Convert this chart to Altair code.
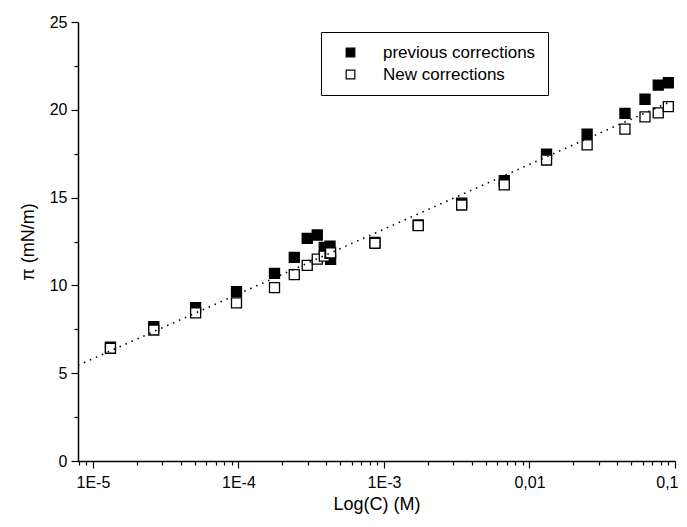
import altair as alt
import pandas as pd

# ---- data ----
series_names = ["previous corrections", "New corrections"]

conc = [1.32e-5, 2.62e-5, 5.08e-5, 9.7e-5, 1.77e-4, 2.42e-4, 2.97e-4, 3.48e-4,
        3.89e-4, 4.26e-4, 4.3e-4, 8.67e-4, 1.72e-3, 3.42e-3, 6.71e-3, 0.0131,
        0.0249, 0.0453, 0.0622, 0.0767, 0.090]
prev_pi = [6.49, 7.65, 8.73, 9.64, 10.69, 11.60, 12.68, 12.87, 12.17, 12.24,
           11.49, 12.45, 13.44, 14.68, 15.96, 17.48, 18.62, 19.80, 20.60, 21.41, 21.54]
new_pi = [6.42, 7.46, 8.43, 9.01, 9.87, 10.61, 11.14, 11.50, 11.67, 11.83,
          11.85, 12.40, 13.40, 14.58, 15.72, 17.14, 18.00, 18.90, 19.60, 19.83, 20.18]

fit_x = [7.9e-6, 0.09]
fit_y = [5.45, 20.41]

x_decades = [1e-5, 1e-4, 1e-3, 1e-2, 1e-1]
x_tick_labels = ["1E-5", "1E-4", "1E-3", "0,01", "0,1"]
y_ticks = [0, 2.5, 5, 7.5, 10, 12.5, 15, 17.5, 20, 22.5, 25]

# ---- tables ----
rows = []
for c, v in zip(conc, prev_pi):
    rows.append({"series": series_names[0], "C": c, "pi": v})
for c, v in zip(conc, new_pi):
    rows.append({"series": series_names[1], "C": c, "pi": v})
pts = pd.DataFrame(rows)
fit = pd.DataFrame({"C": fit_x, "pi": fit_y})

x_ticks = [8e-6, 9e-6]
for d in x_decades[:-1]:
    x_ticks += [d * k for k in range(1, 10)]
x_ticks.append(x_decades[-1])

label_expr = " : ".join(
    [f"abs(datum.value - {d}) < {d * 1e-3} ? '{l}'" for d, l in zip(x_decades, x_tick_labels)]
) + " : ''"
decade_test = "abs(log(datum.value)/LN10 - round(log(datum.value)/LN10)) < 0.001"

FONT = "Liberation Sans"

x_scale = alt.Scale(type="log", domain=[7.9e-6, 0.1], nice=False)
y_scale = alt.Scale(domain=[0, 25], nice=False, zero=False)

x_axis = alt.Axis(
    title="Log(C) (M)", values=x_ticks, labelExpr=label_expr, grid=False,
    tickSize={"condition": {"test": decade_test, "value": 7}, "value": 4},
    labelFontSize=16, titleFontSize=18, titlePadding=5, labelPadding=6,
    labelFlush=True, labelFlushOffset=3, labelOverlap=False,
)
y_axis = alt.Axis(
    title="π (mN/m)", values=y_ticks, grid=False,
    labelExpr="datum.value % 5 == 0 ? datum.label : ''",
    tickSize={"condition": {"test": "datum.value % 5 == 0", "value": 7}, "value": 4},
    labelFontSize=16, titleFontSize=18, titlePadding=12, labelPadding=4,
    labelFlush=False, labelOverlap=False,
)

points = alt.Chart(pts).mark_square(size=100, stroke="black", strokeWidth=1.3, opacity=1).encode(
    x=alt.X("C:Q", scale=x_scale, axis=x_axis),
    y=alt.Y("pi:Q", scale=y_scale, axis=y_axis),
    fill=alt.Fill(
        "series:N",
        scale=alt.Scale(domain=series_names, range=["black", "white"]),
        legend=alt.Legend(
            title=None, orient="none", legendX=243, legendY=10,
            strokeColor="black", padding=12, symbolType="square", symbolSize=75,
            symbolStrokeColor="black", symbolStrokeWidth=1.2, symbolOffset=9,
            labelFontSize=17, labelOffset=24, rowPadding=4, labelFont=FONT,
            labelLimit=400, fillColor="white",
        ),
    ),
)

line = alt.Chart(fit).mark_line(color="black", strokeDash=[1.5, 5], strokeWidth=1.6).encode(
    x=alt.X("C:Q", scale=x_scale),
    y=alt.Y("pi:Q", scale=y_scale),
)

chart = (
    alt.layer(points, line)
    .properties(
        width=597, height=439,
        autosize=alt.AutoSizeParams(type="none"),
        padding={"left": 70, "top": 14, "right": 4, "bottom": 60},
    )
    .configure(font=FONT)
    .configure_view(stroke=None)
    .configure_axis(
        domainColor="black", domainWidth=1.5, tickColor="black", tickWidth=1.2,
        labelColor="black", titleColor="black", labelFont=FONT, titleFont=FONT,
        titleFontWeight="normal",
    )
)

chart.save("out.html", embed_options={"renderer": "svg", "actions": False})
